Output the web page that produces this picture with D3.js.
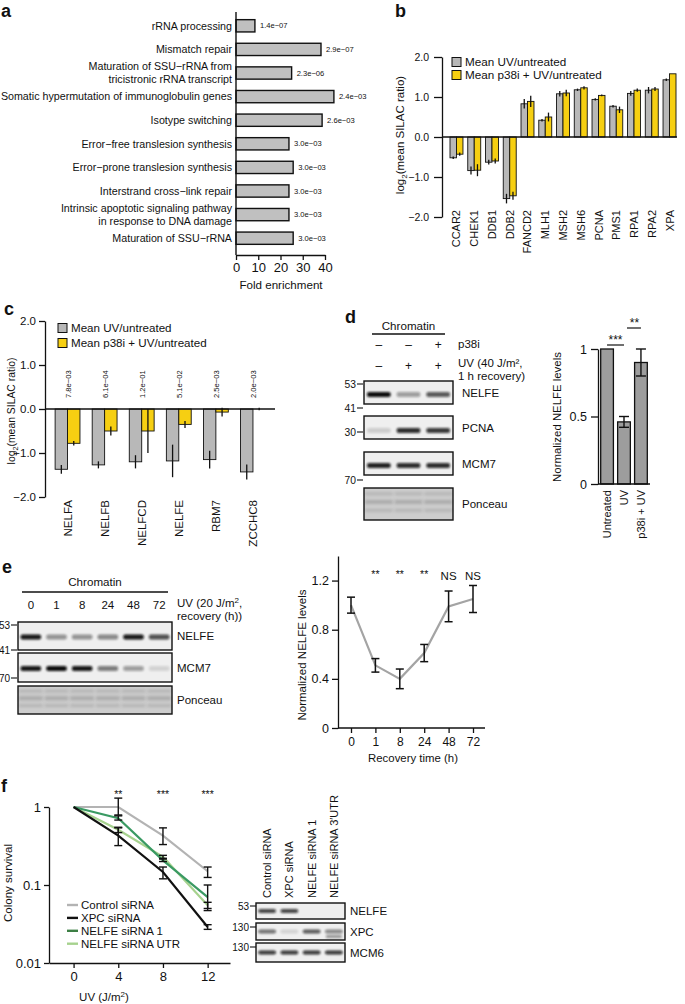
<!DOCTYPE html>
<html><head><meta charset="utf-8">
<script src="https://cdn.jsdelivr.net/npm/d3@7"></script>
<style>
body{margin:0;background:#fff;}
svg{display:block;}
</style></head><body>
<svg id="fig" width="685" height="1004"></svg>
<script>
// ================= DATA =================
// Panel a
const aTerms = [["rRNA processing"],["Mismatch repair"],["Maturation of SSU−rRNA from","tricistronic rRNA transcript"],
  ["Somatic hypermutation of immunoglobulin genes"],["Isotype switching"],["Error−free translesion synthesis"],
  ["Error−prone translesion synthesis"],["Interstrand cross−link repair"],
  ["Intrinsic apoptotic signaling pathway","in response to DNA damage"],["Maturation of SSU−rRNA"]];
const aFold = [8.5, 38.2, 25, 44, 38.7, 23.8, 25.7, 23.8, 23.8, 25.7];
const aPval = ["1.4e−07","2.9e−07","2.3e−06","2.4e−03","2.6e−03","3.0e−03","3.0e−03","3.0e−03","3.0e−03","3.0e−03"];
const aTicks = [0,10,20,30,40];

// Panel b
const bGenes = ["CCAR2","CHEK1","DDB1","DDB2","FANCD2","MLH1","MSH2","MSH6","PCNA","PMS1","RPA1","RPA2","XPA"];
const bUV    = [-0.52,-0.84,-0.63,-1.54,0.83,0.42,1.08,1.18,0.94,0.77,1.09,1.17,1.43];
const bUVErr = [0.03,0.10,0.06,0.12,0.12,0.03,0.07,0.03,0.03,0.03,0.06,0.08,0.03];
const bP38   = [-0.43,-0.83,-0.60,-1.47,0.89,0.50,1.10,1.23,1.04,0.68,1.17,1.20,1.58];
const bP38Err= [0.04,0.15,0.06,0.10,0.14,0.11,0.08,0.04,0.02,0.08,0.04,0.05,0.0];
const bTicks = [-2,-1,0,1,2];
const legendLabels = ["Mean UV/untreated","Mean p38i + UV/untreated"];

// Panel c
const cGenes = ["NELFA","NELFB","NELFCD","NELFE","RBM7","ZCCHC8"];
const cUV    = [-1.37,-1.27,-1.20,-1.18,-1.15,-1.43];
const cUVErr = [0.10,0.08,0.15,0.37,0.20,0.17];
const cP38   = [-0.78,-0.50,-0.50,-0.35,-0.07,0.0];
const cP38Err= [0.05,0.10,0.50,0.08,0.10,0.03];
const cPval  = ["7.8e−03","6.1e−04","1.2e−01","5.1e−02","2.5e−03","2.0e−03"];
const cTicks = [-2,-1,0,1,2];

// Panel d
const dP38Lanes = ["–","–","+"];
const dUVLanes  = ["–","+","+"];
const dRows = ["NELFE","PCNA","MCM7","Ponceau"];
const dNELFE = [1.0,0.35,0.65];
const dPCNA  = [0.15,0.85,0.8];
const dMCM7  = [0.9,0.85,0.85];
const dMW = ["53","41","30","70"];
const dCond  = ["Untreated","UV","p38i + UV"];
const dLevel = [1.0,0.46,0.90];
const dErr   = [0.0,0.04,0.10];
const dTicks = [0,0.5,1];

// Panel e
const eLanes = ["0","1","8","24","48","72"];
const eRows = ["NELFE","MCM7","Ponceau"];
const eNELFE = [0.95,0.4,0.4,0.45,0.95,0.7];
const eMCM7  = [0.95,1.0,0.95,0.5,0.35,0.12];
const eMW = ["53","41","70"];
const eTimes = ["0","1","8","24","48","72"];
const eLevel = [1.0,0.51,0.40,0.61,0.99,1.05];
const eErr   = [0.065,0.055,0.08,0.07,0.125,0.11];
const eSig   = ["","**","**","**","NS","NS"];
const eTicks = [0,0.4,0.8,1.2];

// Panel f
const fDoses = [0,4,8,12];
const fNames = ["Control siRNA","XPC siRNA","NELFE siRNA 1","NELFE siRNA UTR"];
const fControl = [1,1.0,0.43,0.15],  fControlLo = [1,0.79,0.33,0.125], fControlHi = [1,1.3,0.54,0.17];
const fXPC     = [1,0.43,0.147,0.029], fXPCLo = [1,0.32,0.12,0.027], fXPCHi = [1,0.54,0.17,0.031];
const fNELFE1  = [1,0.72,0.207,0.07], fNELFE1Lo = [1,0.68,0.20,0.047], fNELFE1Hi = [1,0.77,0.215,0.10];
const fUTR     = [1,0.51,0.23,0.055], fUTRLo = [1,0.47,0.22,0.05], fUTRHi = [1,0.55,0.24,0.06];
const fSig = ["","**","***","***"];
const fYTicks = [0.01,0.1,1];
const fLanes = ["Control siRNA","XPC siRNA","NELFE siRNA 1","NELFE siRNA 3′UTR"];
const fRows = ["NELFE","XPC","MCM6"];
const fNELFEband = [0.75,0.75,0,0];
const fXPCband   = [0.55,0.12,0.65,0.45];
const fMCM6band  = [0.8,0.8,0.8,0.8];
const fMW = ["53","130","130"];

// ================= DRAW =================
const FONT = "'Liberation Sans', Arial, Helvetica, sans-serif";
const INK = "#111";
const GRAY = "#b8b8b8", YEL = "#f6cf12";
const svg = d3.select("#fig").attr("font-family", FONT);
const defs = svg.append("defs");
defs.append("filter").attr("id","blur").attr("x","-30%").attr("y","-150%").attr("width","160%").attr("height","400%")
  .append("feGaussianBlur").attr("stdDeviation",1.1);
defs.append("filter").attr("id","blur2").attr("x","-30%").attr("y","-150%").attr("width","160%").attr("height","400%")
  .append("feGaussianBlur").attr("stdDeviation",1.8);

function T(g, x, y, s, size, anchor, opts){
  opts = opts || {};
  const t = g.append("text").attr("x",x).attr("y",y).attr("font-size",size)
    .attr("text-anchor",anchor||"start").attr("fill",INK).text(s);
  if(opts.weight) t.attr("font-weight",opts.weight);
  if(opts.rot!==undefined) t.attr("transform",`rotate(${opts.rot},${x},${y})`);
  return t;
}
function styleAxis(sel, fs){
  sel.attr("font-family",FONT).attr("font-size",fs);
  sel.select(".domain").attr("stroke",INK).attr("stroke-width",1.3);
  sel.selectAll(".tick line").attr("stroke",INK).attr("stroke-width",1.3);
  sel.selectAll(".tick text").attr("fill",INK);
  return sel;
}
function panelLabel(s,x,y){ T(svg,x,y,s,18,"start",{weight:"bold"}); }

// ---------- a ----------
{
  const g = svg.append("g");
  const x = d3.scaleLinear().domain([0,40]).range([236,325]);
  const y = d3.scaleBand().domain(d3.range(aTerms.length)).range([14,250]).paddingInner(0.48).paddingOuter(0.24);
  g.selectAll("rect").data(aFold).join("rect")
    .attr("x",x(0)).attr("y",(d,i)=>y(i)).attr("width",d=>x(d)-x(0)).attr("height",y.bandwidth())
    .attr("fill","#c0c0c0").attr("stroke",INK).attr("stroke-width",1.4);
  g.append("line").attr("x1",x(0)).attr("x2",x(0)).attr("y1",12).attr("y2",255).attr("stroke",INK).attr("stroke-width",1.4);
  styleAxis(g.append("g").attr("transform","translate(0,255)")
    .call(d3.axisBottom(x).tickValues(aTicks).tickSize(5).tickPadding(3).tickSizeOuter(0)),13);
  aTerms.forEach((lines,i)=>{
    const cy = y(i)+y.bandwidth()/2;
    const t = g.append("text").attr("text-anchor","end").attr("font-size",10.7).attr("fill",INK);
    lines.forEach((l,j)=>t.append("tspan").attr("x",232).attr("y",cy+(j-(lines.length-1)/2)*12.5).attr("dy","0.35em").text(l));
  });
  g.selectAll("text.pv").data(aPval).join("text").attr("class","pv")
    .attr("x",(d,i)=>x(aFold[i])+5).attr("y",(d,i)=>y(i)+y.bandwidth()/2).attr("dy","0.35em")
    .attr("font-size",7.6).attr("fill",INK).text(d=>d);
  T(g,281,289,"Fold enrichment",11.6,"middle");
  panelLabel("a",1,17);
}

// ---------- grouped bar helper (b, c) ----------
function groupedBars(g, genes, v1, e1, v2, e2, x, y){
  const sub = d3.scaleBand().domain([0,1]).range([0,x.bandwidth()]);
  [[v1,e1,GRAY],[v2,e2,YEL]].forEach(([vals,errs,col],k)=>{
    g.append("g").selectAll("rect").data(vals).join("rect")
      .attr("x",(d,i)=>x(genes[i])+sub(k)).attr("width",sub.bandwidth())
      .attr("y",d=>Math.min(y(0),y(d))).attr("height",d=>Math.abs(y(d)-y(0)))
      .attr("fill",col).attr("stroke",INK).attr("stroke-width",0.9);
    g.append("g").selectAll("line").data(vals).join("line")
      .attr("x1",(d,i)=>x(genes[i])+sub(k)+sub.bandwidth()/2).attr("x2",(d,i)=>x(genes[i])+sub(k)+sub.bandwidth()/2)
      .attr("y1",(d,i)=>y(d-errs[i])).attr("y2",(d,i)=>y(d+errs[i]))
      .attr("stroke",INK).attr("stroke-width",1.3);
  });
}
function legend(g, x0, y0, dy, fs){
  [GRAY,YEL].forEach((c,i)=>{
    g.append("rect").attr("x",x0).attr("y",y0+i*dy-4.5).attr("width",9).attr("height",9)
      .attr("fill",c).attr("stroke",INK).attr("stroke-width",1);
    T(g,x0+13,y0+i*dy+4.2,legendLabels[i],fs,"start");
  });
}
function ylabLog(g,x,y,fs){
  const t = g.append("text").attr("transform",`translate(${x},${y}) rotate(-90)`).attr("text-anchor","middle")
    .attr("font-size",fs).attr("fill",INK);
  t.append("tspan").text("log");
  t.append("tspan").attr("font-size",fs*0.7).attr("dy",fs*0.3).text("2");
  t.append("tspan").attr("dy",-fs*0.3).text("(mean SILAC ratio)");
}

// ---------- b ----------
{
  const g = svg.append("g");
  const x = d3.scaleBand().domain(bGenes).range([447.6,678.4]).paddingInner(0.27).paddingOuter(0.135);
  const y = d3.scaleLinear().domain([-2,2]).range([217,57]);
  groupedBars(g,bGenes,bUV,bUVErr,bP38,bP38Err,x,y);
  g.append("line").attr("x1",442).attr("x2",677).attr("y1",y(0)).attr("y2",y(0)).attr("stroke",INK).attr("stroke-width",1.3);
  styleAxis(g.append("g").attr("transform","translate(442,0)")
    .call(d3.axisLeft(y).tickValues(bTicks).tickSize(8).tickPadding(5).tickSizeOuter(0)),10.5);
  bGenes.forEach(gn=>{
    const cx = x(gn)+x.bandwidth()/2+4;
    T(g,cx,210,gn,11,"end",{rot:-90});
  });
  legend(g,452,62,13,11.7);
  ylabLog(g,404,135,11.5);
  panelLabel("b",395,17);
}

// ---------- c ----------
{
  const g = svg.append("g");
  const x = d3.scaleBand().domain(cGenes).range([49,271.5]).paddingInner(0.33).paddingOuter(0.165);
  const y = d3.scaleLinear().domain([-2,2]).range([497,321]);
  groupedBars(g,cGenes,cUV,cUVErr,cP38,cP38Err,x,y);
  g.append("line").attr("x1",45).attr("x2",275).attr("y1",y(0)).attr("y2",y(0)).attr("stroke",INK).attr("stroke-width",1.3);
  styleAxis(g.append("g").attr("transform","translate(45,0)")
    .call(d3.axisLeft(y).tickValues(cTicks).tickSize(6).tickPadding(3).tickSizeOuter(0)),11.5);
  cGenes.forEach((gn,i)=>{
    const cx = x(gn)+x.bandwidth()/2+4;
    T(g,cx,500,gn,11.5,"end",{rot:-90});
    T(g,cx-1,398,cPval[i],7.6,"start",{rot:-90});
  });
  legend(g,58,328,15,11.6);
  ylabLog(g,15,411,10.4);
  panelLabel("c",4,315);
}

// ---------- blot helper ----------
function blot(g, x0, x1, y0, y1, n, intens, bandY, bandH, ponceau){
  const lx = d3.scaleBand().domain(d3.range(n)).range([x0,x1]);
  g.append("rect").attr("x",x0).attr("y",y0).attr("width",x1-x0).attr("height",y1-y0)
    .attr("fill",ponceau?"#cdcdcd":"#efefef");
  if(ponceau){
    const h = y1-y0;
    [0.18,0.42,0.7].forEach((f,k)=>{
      g.append("g").selectAll("rect").data(d3.range(n)).join("rect")
        .attr("x",i=>lx(i)+1).attr("width",lx.bandwidth()-2).attr("y",y0+h*f-1.5).attr("height",k===1?4:3)
        .attr("fill","#8e8e8e").attr("opacity",k===1?0.55:0.4).attr("filter","url(#blur2)");
    });
  } else {
    g.append("g").selectAll("rect").data(intens).join("rect")
      .attr("x",(d,i)=>lx(i)+lx.bandwidth()*0.1).attr("width",lx.bandwidth()*0.8)
      .attr("y",bandY-bandH/2).attr("height",bandH).attr("rx",2)
      .attr("fill","#0a0a0a").attr("opacity",d=>d).attr("filter","url(#blur)");
  }
  g.append("rect").attr("x",x0).attr("y",y0).attr("width",x1-x0).attr("height",y1-y0)
    .attr("fill","none").attr("stroke",INK).attr("stroke-width",1.4);
  return lx;
}
function mw(g, xr, y, s, fs){
  T(g,xr-1,y+3.5,s,fs,"end");
  g.append("line").attr("x1",xr).attr("x2",xr+6).attr("y1",y).attr("y2",y).attr("stroke",INK).attr("stroke-width",1.1);
}

// ---------- d ----------
{
  const g = svg.append("g");
  const X0=364, X1=453;
  const rowsY = [[381,404],[416,439],[452,475],[488,520]];
  const bands = [dNELFE,dPCNA,dMCM7,null];
  const bandOff = [2,3,2,0];
  let lx;
  dRows.forEach((r,i)=>{
    const [a,b] = rowsY[i];
    lx = blot(g,X0,X1,a,b,3,bands[i],(a+b)/2+bandOff[i],5,r==="Ponceau");
    T(g,462,(a+b)/2+4.2,r,11.5,"start");
  });
  T(g,(X0+X1)/2,330,"Chromatin",11.6,"middle");
  g.append("line").attr("x1",372).attr("x2",445).attr("y1",334).attr("y2",334).attr("stroke",INK).attr("stroke-width",1.4);
  dP38Lanes.forEach((s,i)=>T(g,lx(i)+lx.bandwidth()/2,349,s,12,"middle"));
  dUVLanes.forEach((s,i)=>T(g,lx(i)+lx.bandwidth()/2,370,s,12,"middle"));
  T(g,458,348,"p38i",11.5,"start");
  T(g,458,367,"UV (40 J/m²,",11.5,"start");
  T(g,458,380,"1 h recovery)",11.5,"start");
  [384,408,432,480].forEach((yy,i)=>mw(g,357,yy,dMW[i],10.3));

  // bar chart
  const x = d3.scaleBand().domain(dCond).range([599,649]).paddingInner(0.25).paddingOuter(0.1);
  const y = d3.scaleLinear().domain([0,1]).range([484,349]);
  g.selectAll("rect.dbar").data(dLevel).join("rect").attr("class","dbar")
    .attr("x",(d,i)=>x(dCond[i])).attr("width",x.bandwidth()).attr("y",d=>y(d)).attr("height",d=>y(0)-y(d))
    .attr("fill","#9d9d9d").attr("stroke",INK).attr("stroke-width",1.3);
  dLevel.forEach((v,i)=>{
    if(!dErr[i]) return;
    const cx = x(dCond[i])+x.bandwidth()/2;
    g.append("line").attr("x1",cx).attr("x2",cx).attr("y1",y(v-dErr[i])).attr("y2",y(v+dErr[i])).attr("stroke",INK).attr("stroke-width",1.4);
    [v-dErr[i],v+dErr[i]].forEach(e=>g.append("line").attr("x1",cx-5).attr("x2",cx+5).attr("y1",y(e)).attr("y2",y(e)).attr("stroke",INK).attr("stroke-width",1.4));
  });
  styleAxis(g.append("g").attr("transform","translate(598,0)")
    .call(d3.axisLeft(y).tickValues(dTicks).tickSize(7).tickPadding(4).tickSizeOuter(0).tickFormat(d=>String(d))),12.5);
  g.append("line").attr("x1",598).attr("x2",650).attr("y1",484).attr("y2",484).attr("stroke",INK).attr("stroke-width",1.3);
  dCond.forEach(c=>T(g,x(c)+x.bandwidth()/2+4,490,c,11,"end",{rot:-90}));
  const c0 = x(dCond[0])+x.bandwidth()/2, c1 = x(dCond[1])+x.bandwidth()/2, c2 = x(dCond[2])+x.bandwidth()/2;
  g.append("line").attr("x1",c0).attr("x2",c1).attr("y1",345).attr("y2",345).attr("stroke",INK).attr("stroke-width",1.2);
  T(g,(c0+c1)/2,344,"***",12,"middle");
  g.append("line").attr("x1",c1+3).attr("x2",c2).attr("y1",328).attr("y2",328).attr("stroke",INK).attr("stroke-width",1.2);
  T(g,(c1+c2)/2+2,327,"**",12,"middle");
  T(g,561,417,"Normalized NELFE levels",11.4,"middle",{rot:-90});
  panelLabel("d",345,323);
}

// ---------- e ----------
{
  const g = svg.append("g");
  const X0=18, X1=172;
  const rowsY = [[622,650],[653,682],[686,714]];
  const bands = [eNELFE,eMCM7,null];
  let lx;
  eRows.forEach((r,i)=>{
    const [a,b] = rowsY[i];
    lx = blot(g,X0,X1,a,b,6,bands[i],(a+b)/2+1,5,r==="Ponceau");
    T(g,177,(a+b)/2+4.2,r,11.5,"start");
  });
  T(g,95,586,"Chromatin",11.6,"middle");
  g.append("line").attr("x1",22).attr("x2",168).attr("y1",592).attr("y2",592).attr("stroke",INK).attr("stroke-width",1.4);
  eLanes.forEach((s,i)=>T(g,lx(i)+lx.bandwidth()/2,609,s,11.5,"middle"));
  const uv = T(g,177,607,"UV (20 J/m",11.5,"start");
  uv.append("tspan").attr("font-size",8).attr("dy",-4).text("2");
  uv.append("tspan").attr("dy",4).text(",");
  T(g,177,620,"recovery (h))",11.5,"start");
  [625,650,678].forEach((yy,i)=>mw(g,11,yy,eMW[i],10));

  const x = d3.scalePoint().domain(eTimes).range([351,473]);
  const y = d3.scaleLinear().domain([0,1.4]).range([728,556]);
  styleAxis(g.append("g").attr("transform","translate(338,0)")
    .call(d3.axisLeft(y).tickValues(eTicks).tickSize(6).tickPadding(3).tickSizeOuter(0).tickFormat(d=>d===0?"0":d3.format(".1f")(d))),12.5);
  const xa = styleAxis(g.append("g").attr("transform","translate(0,728)").call(d3.axisBottom(x).tickSize(5).tickPadding(4)),12);
  xa.select(".domain").remove();
  g.append("line").attr("x1",338).attr("x2",485).attr("y1",728).attr("y2",728).attr("stroke",INK).attr("stroke-width",1.3);
  g.append("path").datum(eLevel).attr("fill","none").attr("stroke","#a4a4a4").attr("stroke-width",2.2)
    .attr("d",d3.line().x((d,i)=>x(eTimes[i])).y(d=>y(d)));
  eLevel.forEach((v,i)=>{
    const cx = x(eTimes[i]);
    g.append("line").attr("x1",cx).attr("x2",cx).attr("y1",y(v-eErr[i])).attr("y2",y(v+eErr[i])).attr("stroke",INK).attr("stroke-width",1.5);
    [v-eErr[i],v+eErr[i]].forEach(e=>g.append("line").attr("x1",cx-4).attr("x2",cx+4).attr("y1",y(e)).attr("y2",y(e)).attr("stroke",INK).attr("stroke-width",1.5));
    if(eSig[i]) T(g,cx,eSig[i]==="NS"?580:578,eSig[i],eSig[i]==="NS"?11.5:10.5,"middle");
  });
  T(g,413,762,"Recovery time (h)",11.4,"middle");
  T(g,306,655,"Normalized NELFE levels",11.5,"middle",{rot:-90});
  panelLabel("e",2,573);
}

// ---------- f ----------
{
  const g = svg.append("g");
  const x = d3.scaleLinear().domain([-2.2,14]).range([49,230]);
  const y = d3.scaleLog().domain([0.01,1]).range([963,807]);
  styleAxis(g.append("g").attr("transform","translate(49,0)")
    .call(d3.axisLeft(y).tickValues(fYTicks).tickSize(5).tickPadding(3).tickSizeOuter(0).tickFormat(d=>String(d))),13);
  styleAxis(g.append("g").attr("transform","translate(0,963)")
    .call(d3.axisBottom(x).tickValues(fDoses).tickSize(5).tickPadding(4).tickSizeOuter(0)),13);
  const series = [
    {v:fControl,lo:fControlLo,hi:fControlHi,c:"#b3b3b3"},
    {v:fUTR,lo:fUTRLo,hi:fUTRHi,c:"#a6d28e"},
    {v:fNELFE1,lo:fNELFE1Lo,hi:fNELFE1Hi,c:"#3a9a63"},
    {v:fXPC,lo:fXPCLo,hi:fXPCHi,c:"#111"}
  ];
  const line = d3.line().x((d,i)=>x(fDoses[i])).y(d=>y(d));
  series.forEach(s=>g.append("path").datum(s.v).attr("fill","none").attr("stroke",s.c).attr("stroke-width",2.2).attr("d",line));
  series.forEach(s=>s.v.forEach((v,i)=>{
    if(i===0) return;
    const cx = x(fDoses[i]);
    g.append("line").attr("x1",cx).attr("x2",cx).attr("y1",y(s.lo[i])).attr("y2",y(s.hi[i])).attr("stroke",INK).attr("stroke-width",1.4);
    [s.lo[i],s.hi[i]].forEach(e=>g.append("line").attr("x1",cx-4).attr("x2",cx+4).attr("y1",y(e)).attr("y2",y(e)).attr("stroke",INK).attr("stroke-width",1.4));
  }));
  fSig.forEach((s,i)=>{ if(s) T(g,x(fDoses[i]),798,s,10.5,"middle"); });
  const legCols = ["#b3b3b3","#111","#3d7f45","#a6d28e"];
  fNames.forEach((n,i)=>{
    const yy = 905+i*12.9;
    g.append("line").attr("x1",67).attr("x2",78).attr("y1",yy).attr("y2",yy).attr("stroke",legCols[i]).attr("stroke-width",2.4);
    T(g,81,yy+4.1,n,11.5,"start");
  });
  T(g,12,883,"Colony survival",11.5,"middle",{rot:-90});
  const ut = T(g,104,1001,"UV (J/m",11.5,"middle");
  ut.append("tspan").attr("font-size",8).attr("dy",-4).text("2");
  ut.append("tspan").attr("dy",4).text(")");
  panelLabel("f",1,792);

  // blot
  const X0=256, X1=345;
  const rowsY = [[903,919],[923,940],[943,962]];
  const bands = [fNELFEband,fXPCband,fMCM6band];
  let lx;
  fRows.forEach((r,i)=>{
    const [a,b] = rowsY[i];
    lx = blot(g,X0,X1,a,b,4,bands[i],(a+b)/2,4,false);
    T(g,350,(a+b)/2+4.2,r,11.5,"start");
  });
  // faint lower XPC band in lane 4
  g.append("rect").attr("x",lx(3)+lx.bandwidth()*0.15).attr("width",lx.bandwidth()*0.7).attr("y",935).attr("height",3)
    .attr("fill","#111").attr("opacity",0.4).attr("filter","url(#blur)");
  fLanes.forEach((s,i)=>T(g,lx(i)+lx.bandwidth()/2+4,898,s,11,"start",{rot:-90}));
  [906,927,947].forEach((yy,i)=>mw(g,250,yy,fMW[i],10));
}
</script></body></html>
